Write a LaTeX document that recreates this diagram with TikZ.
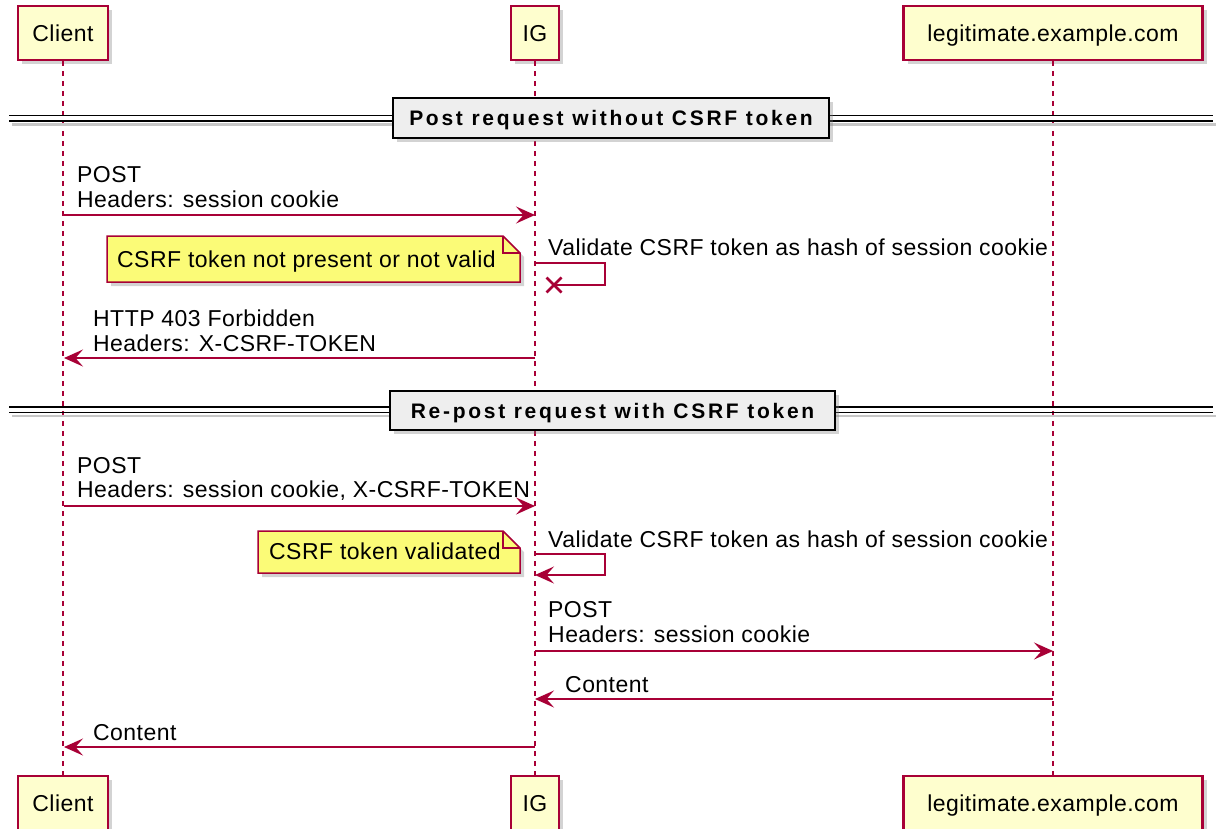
\documentclass[tikz,border=0pt]{standalone}
\usepackage{fontspec}
\setmainfont{Liberation Sans}[LetterSpace=2]
\usetikzlibrary{arrows.meta,shadows}
\definecolor{umlred}{HTML}{A80036}
\definecolor{actorfill}{HTML}{FEFECE}
\definecolor{notefill}{HTML}{FBFB77}
\definecolor{divfill}{HTML}{EEEEEE}

\begin{document}
\begin{tikzpicture}[x=1pt,y=-1pt,
  txt/.style={font=\fontsize{23}{25}\selectfont, inner sep=0pt, anchor=base west},
  shade4/.style={drop shadow={opacity=0.35, shadow xshift=4pt, shadow yshift=-4pt}},
  actor/.style={draw=umlred, line width=2.2pt, fill=actorfill, minimum height=54pt,
    inner sep=0pt, text height=16.5pt, text depth=0pt,
    font=\fontsize{23}{25}\selectfont, shade4},
  life/.style={umlred, line width=1.2pt, dash pattern=on 5pt off 5pt},
  msg/.style={umlred, line width=1.5pt,
    -{Stealth[length=19pt 0 0,width=17pt 0 0,inset=7.5pt 0 0]}},
  plain/.style={umlred, line width=1.5pt},
  notebox/.style={draw=umlred, line width=1.5pt, fill=notefill, shade4},
  divbox/.style={draw=black, line width=2.5pt, fill=divfill, inner sep=0pt,
    text height=15pt, text depth=0pt, shade4,
    font=\fontsize{21}{23}\selectfont\bfseries\addfontfeatures{LetterSpace=13}},
  divline/.style={black, line width=1.5pt},
  divshade/.style={black!22, line width=2.5pt},
]
\useasboundingbox (0,0) rectangle (1223,828);

% participants, top and bottom
\node[actor, minimum width=90pt]  (clientT) at (63,33)  {Client};
\node[actor, minimum width=48pt]  (igT)     at (535,33) {IG};
\node[actor, minimum width=299pt] (webT)    at (1053,33) {legitimate.example.com};
\node[actor, minimum width=90pt]  (clientB) at (63,803)  {Client};
\node[actor, minimum width=48pt]  (igB)     at (535,803) {IG};
\node[actor, minimum width=299pt] (webB)    at (1053,803) {legitimate.example.com};

% lifelines
\draw[life] (clientT.south) -- (clientB.north);
\draw[life] (igT.south) -- (igB.north);
\draw[life] (webT.south) -- (webB.north);

% section separator 1
\draw[divshade] (12,124.5) -- (1216,124.5);
\draw[divline] (9,115.5) -- (1213,115.5);
\draw[divline] (9,121) -- (1213,121);
\node[divbox, minimum width=436pt, minimum height=40pt] (sec1) at (611,118)
  {Post request without CSRF token};

% message 1
\coordinate (m1a) at (64,215);
\coordinate (m1b) at (535,215);
\draw[msg] (m1a) -- (m1b);
\node[txt] (m1t1) at (77,182) {POST};
\node[txt] (m1t2) at (77,207) {Headers: session cookie};

% failed self validation
\coordinate (s1a) at (535,263);
\coordinate (s1r) at (605,263);
\coordinate (s1d) at (605,285);
\coordinate (s1x) at (554,285);
\draw[plain] (s1a) -- (s1r) -- (s1d) -- (s1x);
\draw[umlred, line width=2.8pt] ([shift={(-7.5,-7.5)}]s1x) -- ([shift={(7.5,7.5)}]s1x)
  ([shift={(-7.5,7.5)}]s1x) -- ([shift={(7.5,-7.5)}]s1x);
\node[txt] (s1t) at (548,255) {Validate CSRF token as hash of session cookie};

% note 1
\path[notebox] (107,236) -- (503,236) -- (520,253) -- (520,282) -- (107,282) -- cycle;
\draw[umlred, line width=1.5pt] (503,236) -- (503,253) -- (520,253);
\node[txt] (n1) at (117,267) {CSRF token not present or not valid};

% message 3
\coordinate (m3a) at (535,358);
\coordinate (m3b) at (64,358);
\draw[msg] (m3a) -- (m3b);
\node[txt] (m3t1) at (93,326) {HTTP 403 Forbidden};
\node[txt] (m3t2) at (93,351) {Headers: X-CSRF-TOKEN};

% section separator 2
\draw[divshade] (12,416) -- (1216,416);
\draw[divline] (9,407) -- (1213,407);
\draw[divline] (9,412.5) -- (1213,412.5);
\node[divbox, minimum width=445pt, minimum height=39pt] (sec2) at (612.5,410.5)
  {Re-post request with CSRF token};

% message 4
\coordinate (m4a) at (64,506);
\coordinate (m4b) at (535,506);
\draw[msg] (m4a) -- (m4b);
\node[txt] (m4t1) at (77,473) {POST};
\node[txt] (m4t2) at (77,497) {Headers: session cookie, X-CSRF-TOKEN};

% successful self validation
\coordinate (s2a) at (535,554);
\coordinate (s2r) at (605,554);
\coordinate (s2d) at (605,575);
\coordinate (s2b) at (535,575);
\draw[msg] (s2a) -- (s2r) -- (s2d) -- (s2b);
\node[txt] (s2t) at (548,547) {Validate CSRF token as hash of session cookie};

% note 2
\path[notebox] (258,531) -- (503,531) -- (520,548) -- (520,573) -- (258,573) -- cycle;
\draw[umlred, line width=1.5pt] (503,531) -- (503,548) -- (520,548);
\node[txt] (n2) at (269,559) {CSRF token validated};

% message 6
\coordinate (m6a) at (535,651);
\coordinate (m6b) at (1053,651);
\draw[msg] (m6a) -- (m6b);
\node[txt] (m6t1) at (548,617) {POST};
\node[txt] (m6t2) at (548,642) {Headers: session cookie};

% message 7
\coordinate (m7a) at (1053,699);
\coordinate (m7b) at (535,699);
\draw[msg] (m7a) -- (m7b);
\node[txt] (m7t) at (565,692) {Content};

% message 8
\coordinate (m8a) at (535,747);
\coordinate (m8b) at (64,747);
\draw[msg] (m8a) -- (m8b);
\node[txt] (m8t) at (93,740) {Content};
\end{tikzpicture}
\end{document}
